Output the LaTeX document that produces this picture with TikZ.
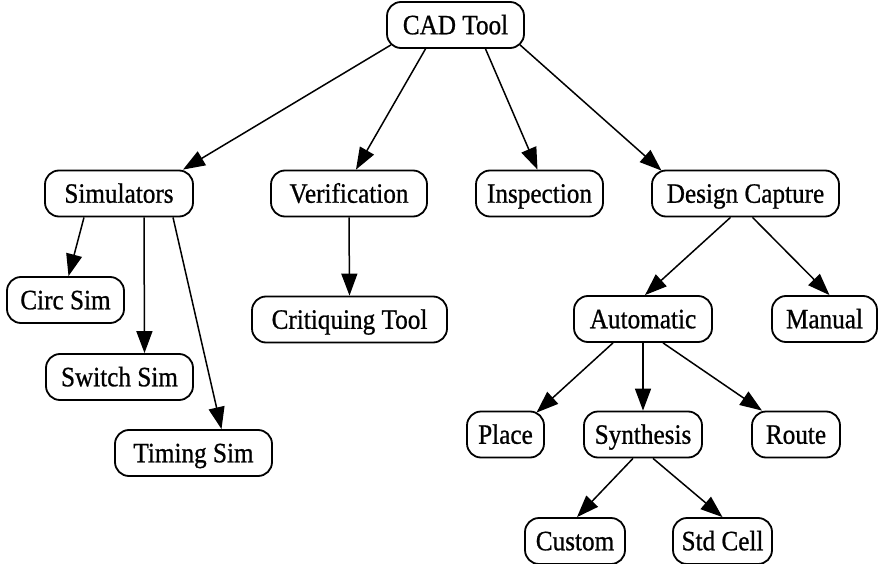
\documentclass[tikz,border=0pt]{standalone}
\usepackage{fontspec}
\setmainfont{Liberation Serif}
\newfontfamily\labelfont[FakeStretch=0.9,FakeBold=0.8]{Liberation Serif}
\usetikzlibrary{arrows.meta}
\begin{document}
\begin{tikzpicture}[x=1pt,y=-1pt,
  box/.style={draw, line width=1.8pt, rounded corners=14pt, minimum height=46pt,
    inner xsep=4pt, inner ysep=0pt, text height=24pt, text depth=5.5pt,
    font=\labelfont\fontsize{28}{32}\selectfont},
  link/.style={line width=1.5pt, -{Triangle[length=22pt,width=16pt]}}]
\useasboundingbox (0,0) rectangle (883,564);

% tool hierarchy
\node[box, minimum width=137pt] (cad)    at (455.5,25)   {CAD Tool};
\node[box, minimum width=148pt] (sim)    at (119,193.5)  {Simulators};
\node[box, minimum width=156pt] (ver)    at (349,193.5)  {Verification};
\node[box, minimum width=127pt] (insp)   at (539.5,193.5){Inspection};
\node[box, minimum width=187pt] (dc)     at (745.5,193.5){Design Capture};
\node[box, minimum width=117pt] (circ)   at (65.5,300)   {Circ Sim};
\node[box, minimum width=195pt] (crit)   at (349.5,319.5){Critiquing Tool};
\node[box, minimum width=147pt] (switch) at (119.5,377)  {Switch Sim};
\node[box, minimum width=157pt] (timing) at (193.5,453)  {Timing Sim};
\node[box, minimum width=138pt] (auto)   at (643,319)    {Automatic};
\node[box, minimum width=105pt] (manual) at (824.5,319)  {Manual};
\node[box, minimum width=77pt]  (place)  at (505.5,434.5){Place};
\node[box, minimum width=118pt] (synth)  at (643,434.5)  {Synthesis};
\node[box, minimum width=88pt]  (route)  at (796,434.5)  {Route};
\node[box, minimum width=100pt] (custom) at (575,541)    {Custom};
\node[box, minimum width=99pt]  (std)    at (722.5,541)  {Std Cell};

% connectors
\draw[link] ([xshift=-64.5pt,yshift=4pt]cad.south) -- ([xshift=64pt]sim.north);
\draw[link] ([xshift=-30pt]cad.south) -- ([xshift=7pt]ver.north);
\draw[link] ([xshift=30pt]cad.south) -- ([xshift=-2pt]insp.north);
\draw[link] ([xshift=64.5pt,yshift=4pt]cad.south) -- ([xshift=-84pt,yshift=-1pt]dc.north);
\draw[link] ([xshift=-35pt]sim.south) -- ([xshift=3pt]circ.north);
\draw[link] ([xshift=25pt]sim.south) -- ([xshift=25pt]switch.north);
\draw[link] ([xshift=54pt]sim.south) -- ([xshift=28pt]timing.north);
\draw[link] (ver.south) -- (crit.north);
\draw[link] ([xshift=-15pt]dc.south) -- ([xshift=2pt]auto.north);
\draw[link] ([xshift=7pt]dc.south) -- ([xshift=5pt]manual.north);
\draw[link] ([xshift=-30pt]auto.south) -- ([xshift=31pt,yshift=-2pt]place.north);
\draw[link] (auto.south) -- (synth.north);
\draw[link] ([xshift=20pt]auto.south) -- ([xshift=-34pt]route.north);
\draw[link] ([xshift=-10pt]synth.south) -- ([xshift=2pt]custom.north);
\draw[link] ([xshift=10pt]synth.south) -- (std.north);
\end{tikzpicture}
\end{document}
